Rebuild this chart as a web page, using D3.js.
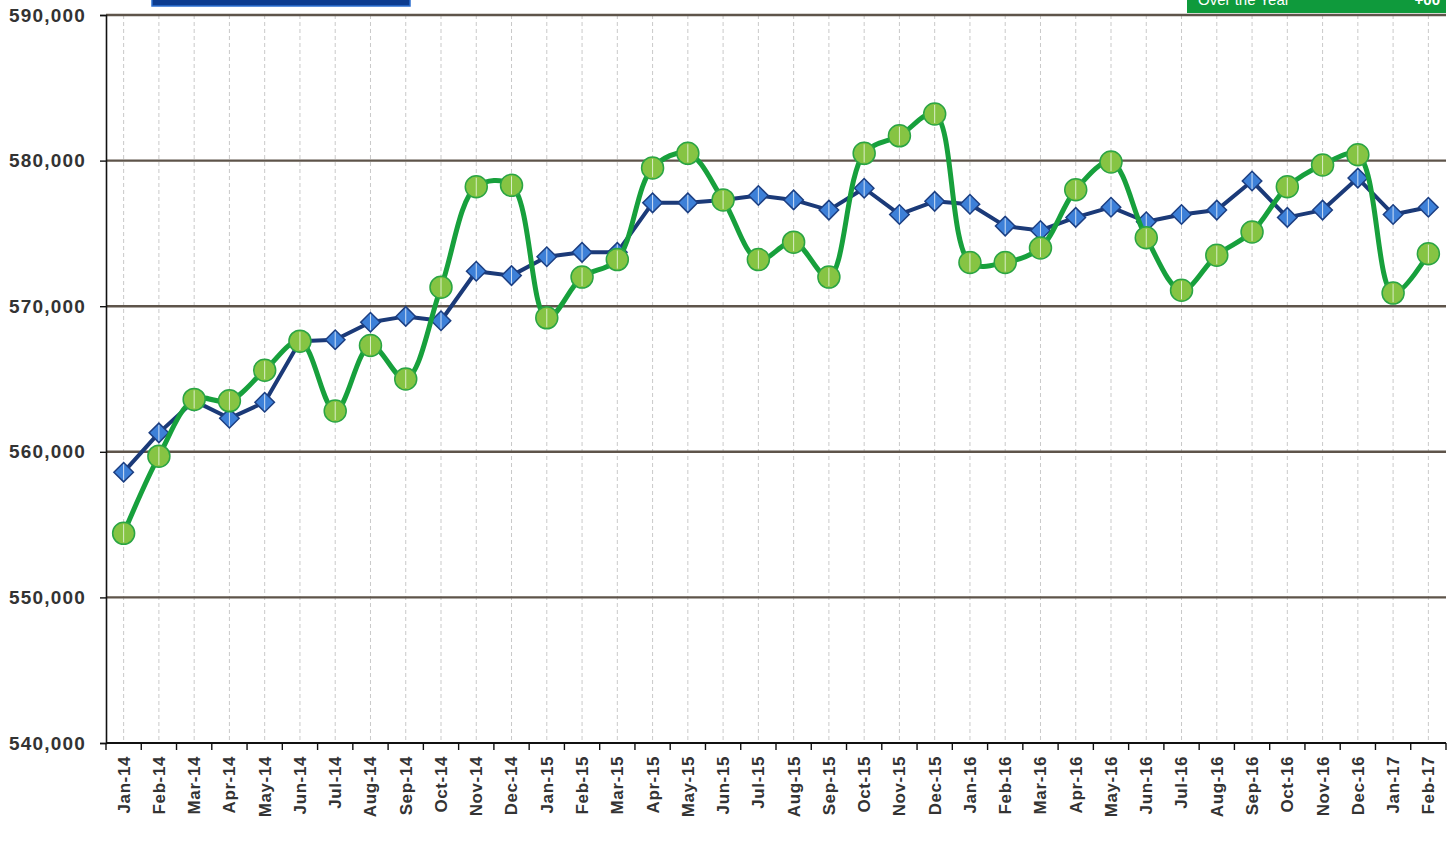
<!DOCTYPE html>
<html>
<head>
<meta charset="utf-8">
<script src="https://cdn.jsdelivr.net/npm/d3@7"></script>
<style>
  body { margin: 0; background: #fff; }
  svg { display: block; }
</style>
</head>
<body>
<div class="chart"></div>
<script>
// categories
let months = [
  "Jan-14","Feb-14","Mar-14","Apr-14","May-14","Jun-14","Jul-14","Aug-14","Sep-14","Oct-14","Nov-14","Dec-14",
  "Jan-15","Feb-15","Mar-15","Apr-15","May-15","Jun-15","Jul-15","Aug-15","Sep-15","Oct-15","Nov-15","Dec-15",
  "Jan-16","Feb-16","Mar-16","Apr-16","May-16","Jun-16","Jul-16","Aug-16","Sep-16","Oct-16","Nov-16","Dec-16",
  "Jan-17","Feb-17"
];

// blue series (diamonds)
let blueValues = [
  558600, 561300, 563500, 562300, 563400, 567600, 567700, 568900, 569300, 569000, 572400, 572100,
  573400, 573700, 573700, 577100, 577100, 577300, 577600, 577300, 576600, 578100, 576300, 577200,
  577000, 575500, 575200, 576100, 576800, 575800, 576300, 576600, 578600, 576100, 576600, 578800,
  576300, 576800
];

// green series (circles)
let greenValues = [
  554400, 559700, 563600, 563500, 565600, 567600, 562800, 567300, 565000, 571300, 578200, 578300,
  569200, 572000, 573200, 579500, 580500, 577300, 573200, 574400, 572000, 580500, 581700, 583200,
  573000, 573000, 574000, 578000, 579900, 574700, 571100, 573500, 575100, 578200, 579700, 580400,
  570900, 573600
];

let yTicks = [540000, 550000, 560000, 570000, 580000, 590000];

let config = {
  width: 1451,
  height: 850,
  left: 106,
  right: 1446,
  top: 15,
  bottom: 743,
  fontFamily: '"Liberation Sans", Arial, sans-serif',
  textColor: '#333',
  gridColor: '#5e544a',
  blueLine: '#1b3a78',
  blueFill: '#3d80d8',
  greenLine: '#17a03c',
  greenFill: '#86c443'
};

let svg = d3.select('div.chart').append('svg')
  .attr('width', config.width)
  .attr('height', config.height);

let x = d3.scaleBand()
  .domain(months)
  .range([config.left, config.right]);

let y = d3.scaleLinear()
  .domain([yTicks[0], yTicks[yTicks.length - 1]])
  .range([config.bottom, config.top]);

let cx = (d, i) => x(months[i]) + x.bandwidth() / 2;

// vertical dashed gridlines at category centres
svg.append('g').selectAll('line')
  .data(months)
  .enter().append('line')
  .attr('x1', d => x(d) + x.bandwidth() / 2)
  .attr('x2', d => x(d) + x.bandwidth() / 2)
  .attr('y1', config.top)
  .attr('y2', config.bottom)
  .attr('stroke', '#c9c9c9')
  .attr('stroke-width', 1)
  .attr('stroke-dasharray', '4,3');

// horizontal gridlines
svg.append('g').selectAll('line')
  .data(yTicks.slice(1))
  .enter().append('line')
  .attr('x1', config.left)
  .attr('x2', config.right)
  .attr('y1', d => y(d))
  .attr('y2', d => y(d))
  .attr('stroke', config.gridColor)
  .attr('stroke-width', 2.4);

// y axis
let yAxis = svg.append('g')
  .attr('transform', 'translate(' + config.left + ',0)')
  .call(d3.axisLeft(y).tickValues(yTicks).tickSize(6).tickPadding(14).tickFormat(d3.format(',')));

yAxis.select('.domain').attr('stroke', '#111').attr('stroke-width', 1.6);
yAxis.selectAll('.tick line').attr('stroke', '#111').attr('stroke-width', 1.4);
yAxis.selectAll('text')
  .attr('font-family', config.fontFamily)
  .attr('font-size', '19px')
  .attr('font-weight', 'bold')
  .attr('letter-spacing', '1.2px')
  .attr('fill', config.textColor);

// x axis, ticks at band boundaries
let xAxis = svg.append('g')
  .attr('transform', 'translate(0,' + config.bottom + ')');

xAxis.append('line')
  .attr('x1', config.left).attr('x2', config.right)
  .attr('y1', 0).attr('y2', 0)
  .attr('stroke', '#111').attr('stroke-width', 1.8);

xAxis.selectAll('.xtick')
  .data(months.concat(['end']))
  .enter().append('line')
  .attr('x1', (d, i) => i < months.length ? x(d) : config.right)
  .attr('x2', (d, i) => i < months.length ? x(d) : config.right)
  .attr('y1', 0).attr('y2', 7)
  .attr('stroke', '#111').attr('stroke-width', 1.4);

xAxis.selectAll('text')
  .data(months)
  .enter().append('text')
  .attr('transform', d => 'translate(' + (x(d) + x.bandwidth() / 2) + ',13) rotate(-90)')
  .attr('text-anchor', 'end')
  .attr('dy', '0.35em')
  .attr('font-family', config.fontFamily)
  .attr('font-size', '17px')
  .attr('font-weight', 'bold')
  .attr('letter-spacing', '0.6px')
  .attr('fill', config.textColor)
  .text(d => d);

// blue series
let blueLine = d3.line().x(cx).y(d => y(d)).curve(d3.curveLinear);
svg.append('path')
  .attr('d', blueLine(blueValues))
  .attr('fill', 'none')
  .attr('stroke', config.blueLine)
  .attr('stroke-width', 4)
  .attr('stroke-linejoin', 'round');

let diamond = d3.symbol().type(d3.symbolSquare).size(190);
let blueMarks = svg.append('g').selectAll('g')
  .data(blueValues)
  .enter().append('g')
  .attr('transform', (d, i) => 'translate(' + cx(d, i) + ',' + y(d) + ')');

blueMarks.append('path')
  .attr('d', diamond())
  .attr('transform', 'rotate(45)')
  .attr('fill', config.blueFill)
  .attr('stroke', '#1d3f82')
  .attr('stroke-width', 1.5);

blueMarks.append('line')
  .attr('y1', -8).attr('y2', 8)
  .attr('stroke', 'rgba(255,255,255,0.75)')
  .attr('stroke-width', 1);

// green series
let greenLine = d3.line().x(cx).y(d => y(d)).curve(d3.curveCatmullRom.alpha(0.5));
svg.append('path')
  .attr('d', greenLine(greenValues))
  .attr('fill', 'none')
  .attr('stroke', config.greenLine)
  .attr('stroke-width', 5)
  .attr('stroke-linejoin', 'round');

let greenMarks = svg.append('g').selectAll('g')
  .data(greenValues)
  .enter().append('g')
  .attr('transform', (d, i) => 'translate(' + cx(d, i) + ',' + y(d) + ')');

greenMarks.append('circle')
  .attr('r', 11)
  .attr('fill', config.greenFill)
  .attr('stroke', '#2aa544')
  .attr('stroke-width', 1.5);

greenMarks.append('line')
  .attr('y1', -9).attr('y2', 9)
  .attr('stroke', 'rgba(255,255,255,0.7)')
  .attr('stroke-width', 1);

// legend boxes cut off at the top edge, as in the scan
svg.append('rect')
  .attr('x', 152).attr('y', -4)
  .attr('width', 258).attr('height', 10)
  .attr('fill', '#0d3c8f')
  .attr('stroke', '#2d6fd0')
  .attr('stroke-width', 1.5);

svg.append('rect')
  .attr('x', 1187).attr('y', -4)
  .attr('width', 259).attr('height', 17)
  .attr('fill', '#0f9a3c');

svg.append('text')
  .attr('x', 1198).attr('y', 5)
  .attr('font-family', config.fontFamily)
  .attr('font-size', '15px')
  .attr('fill', '#fff')
  .text('Over the Year');

svg.append('text')
  .attr('x', 1440).attr('y', 5)
  .attr('text-anchor', 'end')
  .attr('font-family', config.fontFamily)
  .attr('font-size', '15px')
  .attr('font-weight', 'bold')
  .attr('fill', '#fff')
  .text('+00');
</script>
</body>
</html>
